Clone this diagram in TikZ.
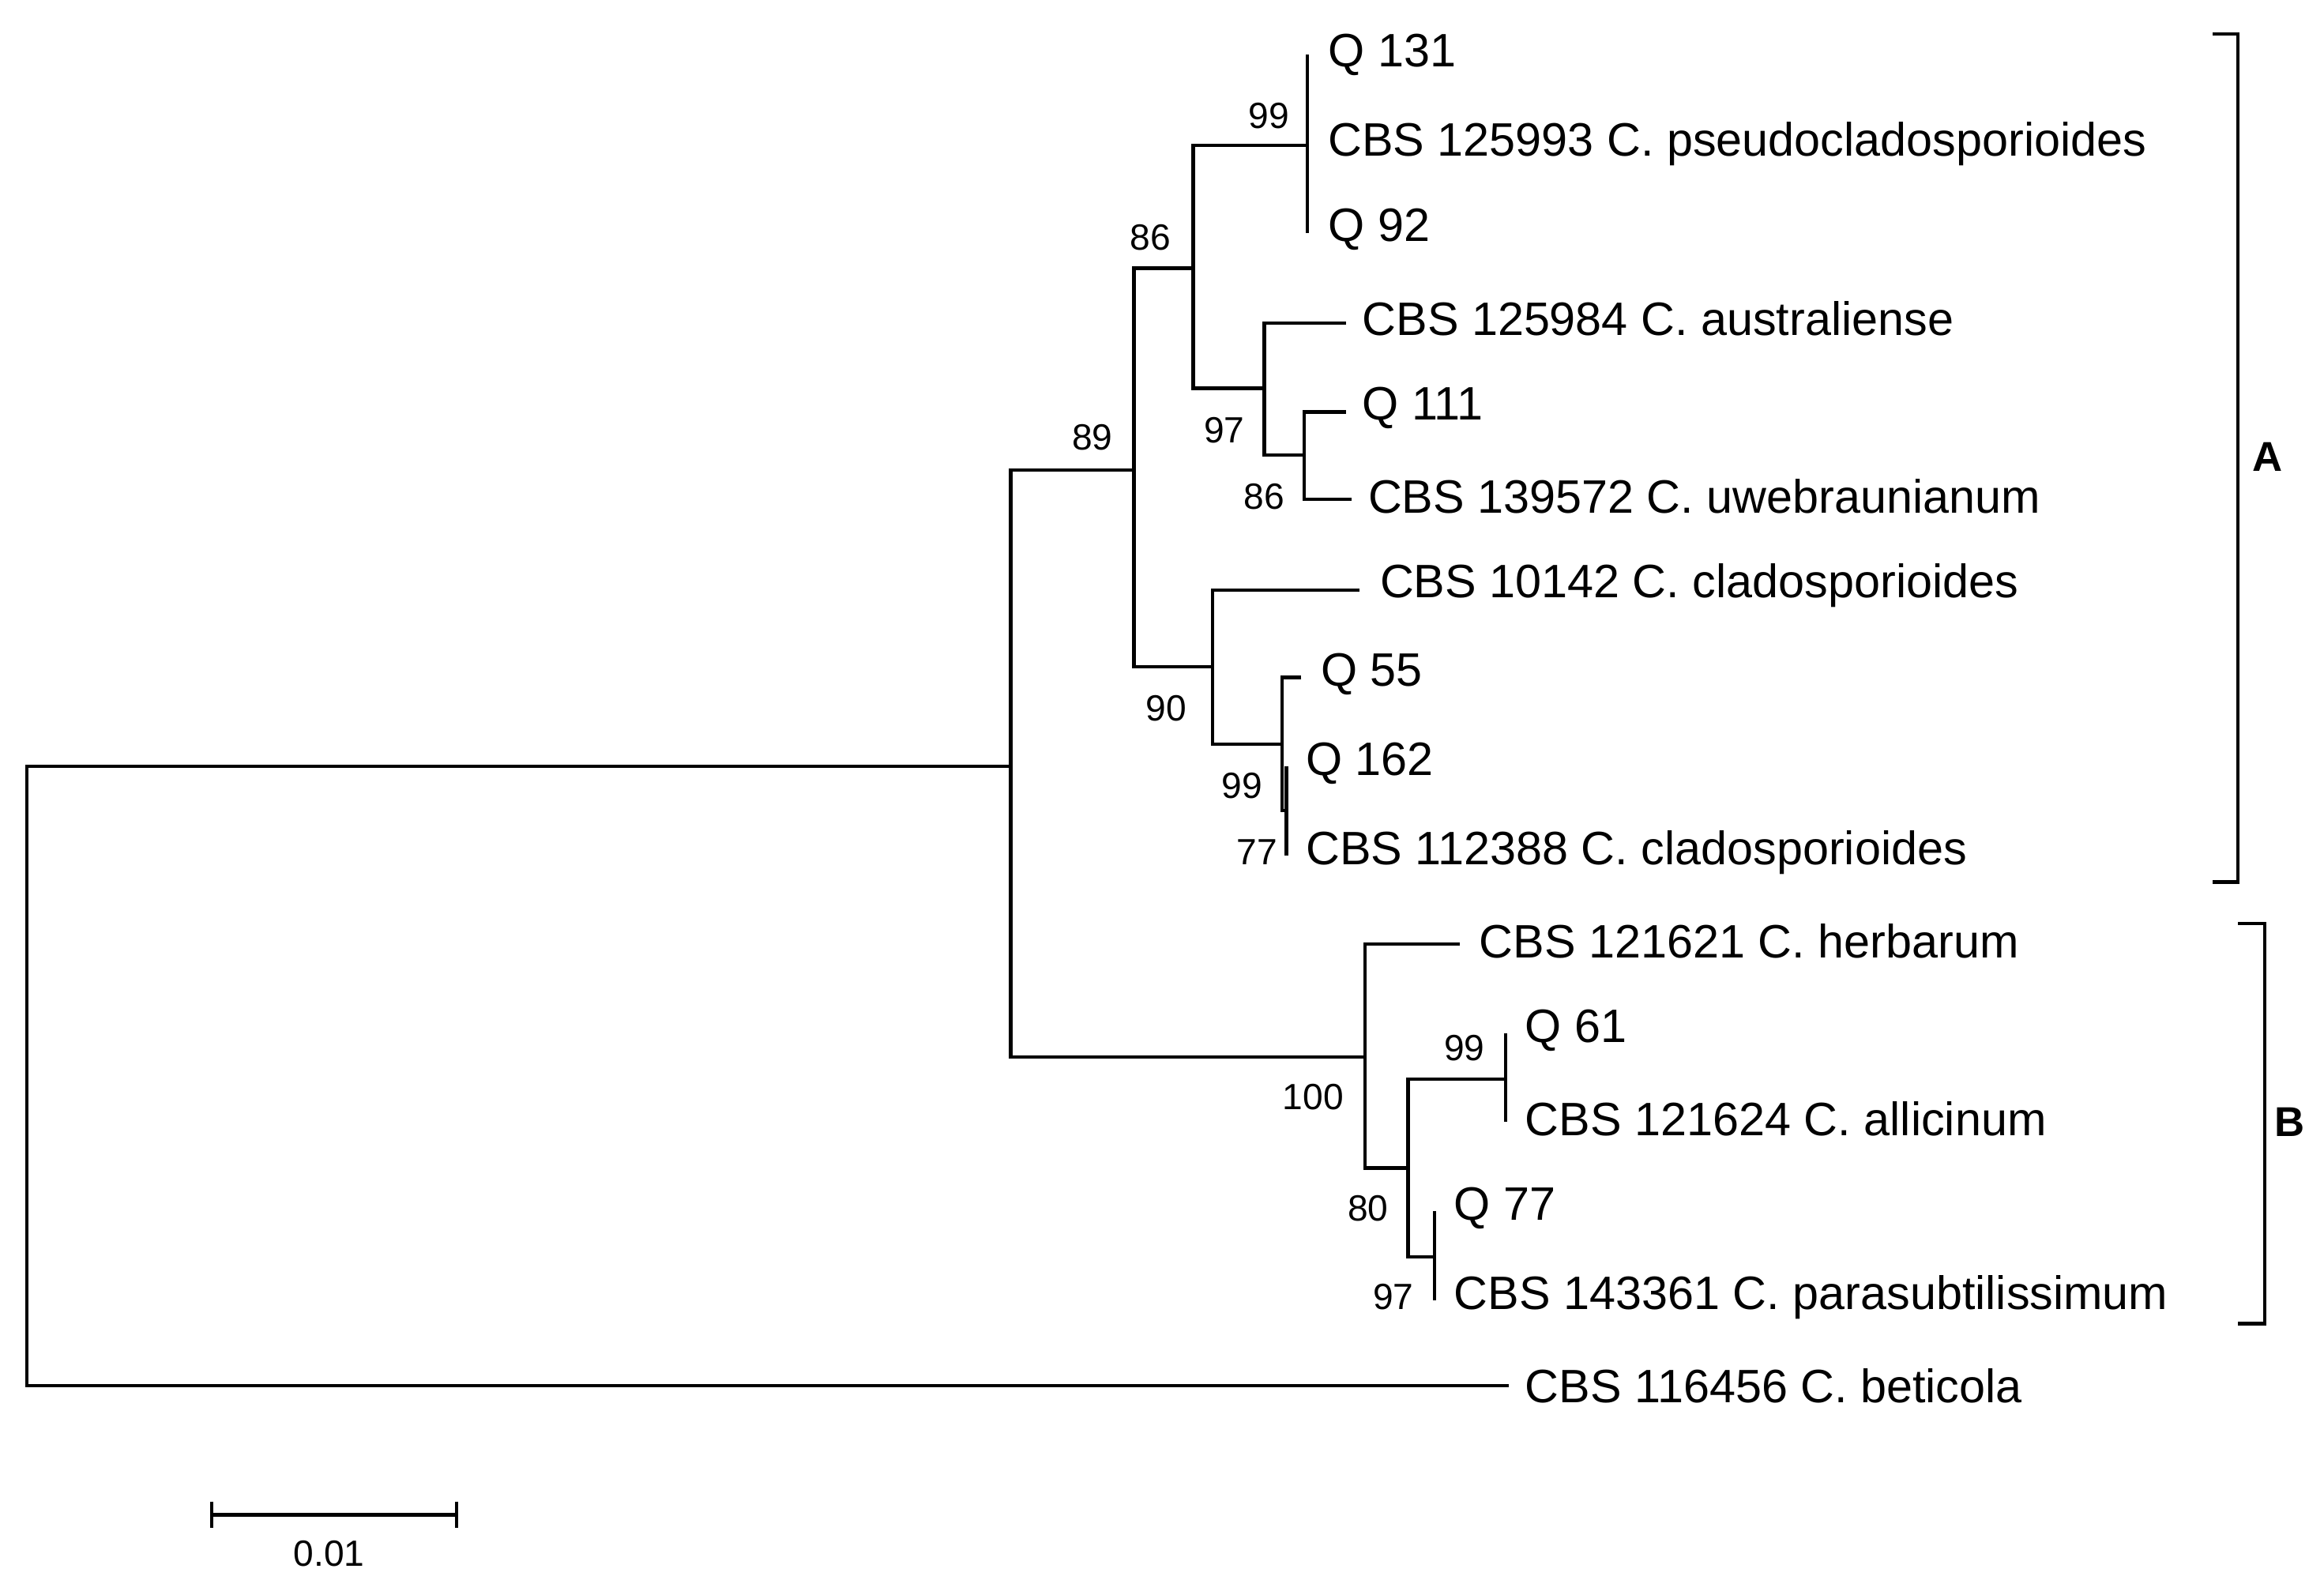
\documentclass[tikz,border=0pt]{standalone}
\usepackage{fontspec}
\setmainfont{Liberation Sans}
\begin{document}
\begin{tikzpicture}[x=0.02cm,y=-0.02cm,line width=1.3pt,
  tip/.style={anchor=west,inner sep=0pt,font=\fontsize{18}{18}\selectfont},
  bs/.style={inner sep=0pt,font=\fontsize{14}{14}\selectfont},
  clade/.style={inner sep=0pt,font=\bfseries\fontsize{16}{16}\selectfont}]
\useasboundingbox[fill=white] (0,0) rectangle (1568,1076);
% root
\draw (1018,935) -- (18,935) -- (18,517) -- (682,517);
\node[tip] at (1028,935) {CBS 116456 C. beticola};
% ingroup
\draw (765,317) -- (682,317) -- (682,713) -- (921,713);
\node[bs] at (737,295) {89};
% clade A
\draw (805,181) -- (765,181) -- (765,450) -- (818,450);
\node[bs] at (776,160) {86};
\draw (882,98) -- (805,98) -- (805,262) -- (853,262);
\node[bs] at (856,78) {99};
\draw (882,37) -- (882,157);
\node[tip] at (895,37) {Q 131};
\node[tip] at (895,97) {CBS 125993 C. pseudocladosporioides};
\node[tip] at (895,155) {Q 92};
\draw (908,218) -- (853,218) -- (853,307) -- (880,307);
\node[bs] at (826,290) {97};
\node[tip] at (918,215) {CBS 125984 C. australiense};
\draw (908,278) -- (880,278) -- (880,337) -- (912,337);
\node[bs] at (853,335) {86};
\node[tip] at (918,275) {Q 111};
\node[tip] at (922,335) {CBS 139572 C. uwebraunianum};
\draw (917,398) -- (818,398) -- (818,502) -- (865,502);
\node[bs] at (787,478) {90};
\node[tip] at (930,395) {CBS 10142 C. cladosporioides};
\draw (878,457) -- (865,457) -- (865,547) -- (868,547);
\draw (868,517) -- (868,577);
\node[bs] at (838,530) {99};
\node[bs] at (848,575) {77};
\node[tip] at (890,455) {Q 55};
\node[tip] at (880,515) {Q 162};
\node[tip] at (880,575) {CBS 112388 C. cladosporioides};
% clade B
\draw (985,637) -- (921,637) -- (921,788) -- (950,788);
\node[bs] at (886,740) {100};
\node[tip] at (997,635) {CBS 121621 C. herbarum};
\draw (1016,728) -- (950,728) -- (950,848) -- (968,848);
\node[bs] at (923,815) {80};
\draw (1016,697) -- (1016,757);
\node[bs] at (988,707) {99};
\node[tip] at (1028,695) {Q 61};
\node[tip] at (1028,755) {CBS 121624 C. allicinum};
\draw (968,817) -- (968,877);
\node[bs] at (940,875) {97};
\node[tip] at (980,815) {Q 77};
\node[tip] at (980,875) {CBS 143361 C. parasubtilissimum};
% brackets
\draw (1493,23) -- (1510,23) -- (1510,595) -- (1493,595);
\node[clade] at (1530,308) {A};
\draw (1510,623) -- (1528,623) -- (1528,893) -- (1510,893);
\node[clade] at (1545,757) {B};
% scale bar
\draw (143,1022) -- (308,1022);
\draw (143,1013) -- (143,1031);
\draw (308,1013) -- (308,1031);
\node[bs] at (222,1048) {0.01};
\end{tikzpicture}
\end{document}
